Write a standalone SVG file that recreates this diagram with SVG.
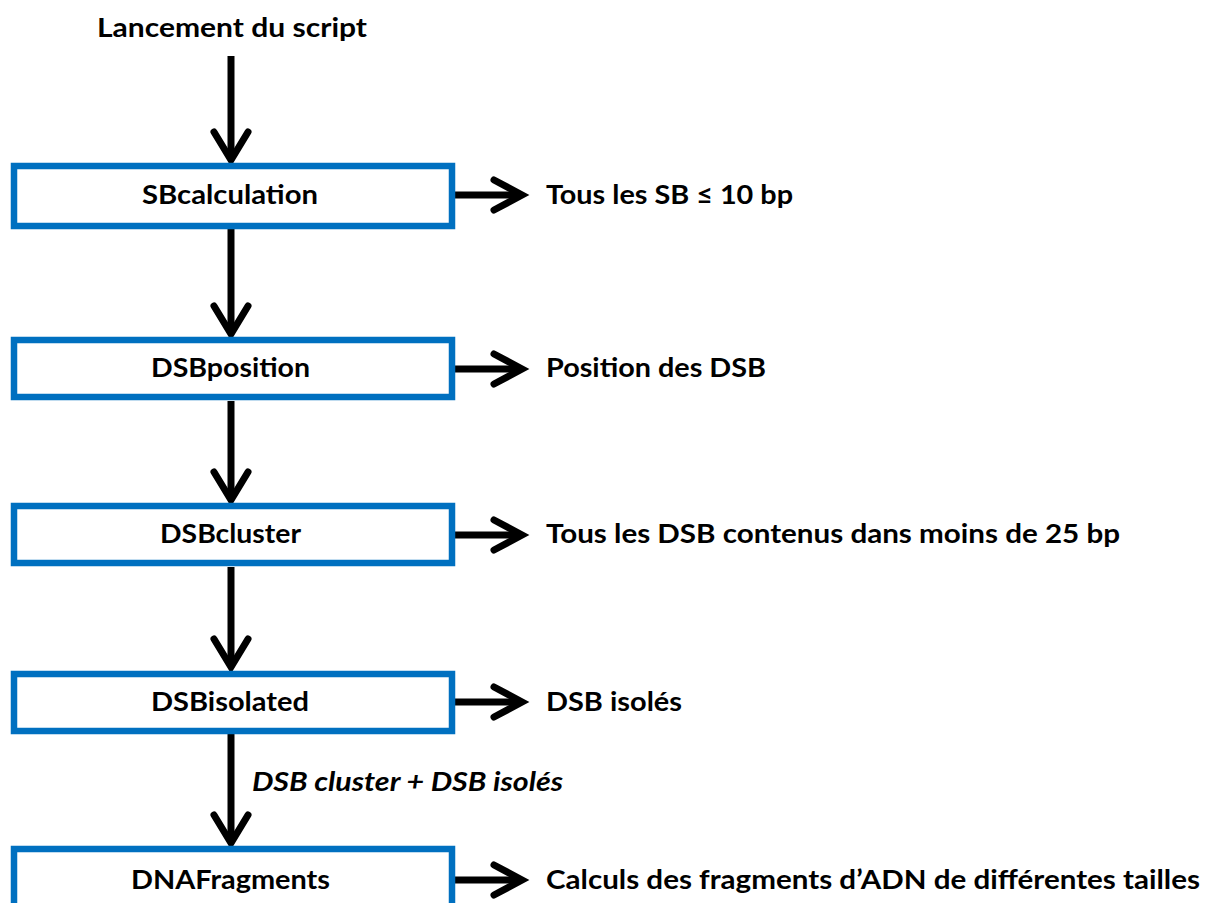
<svg xmlns="http://www.w3.org/2000/svg" width="1205" height="903" viewBox="0 0 1205 903">
<style>
.box{fill:#fff;stroke:#0070C0;stroke-width:6.5}
.t{font-family:Lato,"Liberation Sans",sans-serif;font-weight:bold;font-size:26px;fill:#000}
.c{text-anchor:middle}
.it{font-style:italic}
.ln{fill:none;stroke:#000;stroke-width:7}
.hd{fill:none;stroke:#000;stroke-width:7;stroke-linecap:round;stroke-linejoin:miter}
</style>
<rect width="1205" height="903" fill="#fff"/>
<g id="connectors">
<line class="ln" x1="231" y1="56" x2="231" y2="160"/>
<polyline class="hd" points="214,132 231,160 248,132"/>
<line class="ln" x1="231" y1="229" x2="231" y2="334"/>
<polyline class="hd" points="214,306 231,334 248,306"/>
<line class="ln" x1="231" y1="401" x2="231" y2="500"/>
<polyline class="hd" points="214,472 231,500 248,472"/>
<line class="ln" x1="231" y1="567" x2="231" y2="667"/>
<polyline class="hd" points="214,639 231,667 248,639"/>
<line class="ln" x1="231" y1="734" x2="231" y2="843"/>
<polyline class="hd" points="214,815 231,843 248,815"/>
<line class="ln" x1="455" y1="195" x2="521" y2="195"/>
<polyline class="hd" points="494,180 522,195 494,210"/>
<line class="ln" x1="455" y1="369" x2="521" y2="369"/>
<polyline class="hd" points="494,354 522,369 494,384"/>
<line class="ln" x1="455" y1="535" x2="521" y2="535"/>
<polyline class="hd" points="494,520 522,535 494,550"/>
<line class="ln" x1="455" y1="702" x2="521" y2="702"/>
<polyline class="hd" points="494,687 522,702 494,717"/>
<line class="ln" x1="455" y1="880" x2="521" y2="880"/>
<polyline class="hd" points="494,865 522,880 494,895"/>
<text class="t it" x="252" y="791" textLength="311" lengthAdjust="spacingAndGlyphs">DSB cluster + DSB isolés</text>
</g>
<g id="start">
<text class="t c" x="232" y="37" textLength="270" lengthAdjust="spacingAndGlyphs">Lancement du script</text>
</g>
<g id="SBcalculation">
<rect class="box" x="14" y="166" width="438" height="60"/>
<text class="t c" x="230" y="204" textLength="176" lengthAdjust="spacingAndGlyphs">SBcalculation</text>
<text class="t" x="546" y="204" textLength="247" lengthAdjust="spacingAndGlyphs">Tous les SB ≤ 10 bp</text>
</g>
<g id="DSBposition">
<rect class="box" x="14" y="340" width="438" height="57"/>
<text class="t c" x="230.5" y="377" textLength="159" lengthAdjust="spacingAndGlyphs">DSBposition</text>
<text class="t" x="546" y="377" textLength="220" lengthAdjust="spacingAndGlyphs">Position des DSB</text>
</g>
<g id="DSBcluster">
<rect class="box" x="14" y="506" width="438" height="57"/>
<text class="t c" x="230.5" y="543" textLength="141" lengthAdjust="spacingAndGlyphs">DSBcluster</text>
<text class="t" x="546" y="543" textLength="574" lengthAdjust="spacingAndGlyphs">Tous les DSB contenus dans moins de 25 bp</text>
</g>
<g id="DSBisolated">
<rect class="box" x="14" y="674" width="438" height="57"/>
<text class="t c" x="230" y="711" textLength="158" lengthAdjust="spacingAndGlyphs">DSBisolated</text>
<text class="t" x="546" y="711" textLength="136" lengthAdjust="spacingAndGlyphs">DSB isolés</text>
</g>
<g id="DNAFragments">
<rect class="box" x="14" y="849" width="438" height="62"/>
<text class="t c" x="230.5" y="889" textLength="199" lengthAdjust="spacingAndGlyphs">DNAFragments</text>
<text class="t" x="546" y="889" textLength="654" lengthAdjust="spacingAndGlyphs">Calculs des fragments d’ADN de différentes tailles</text>
</g>
</svg>
